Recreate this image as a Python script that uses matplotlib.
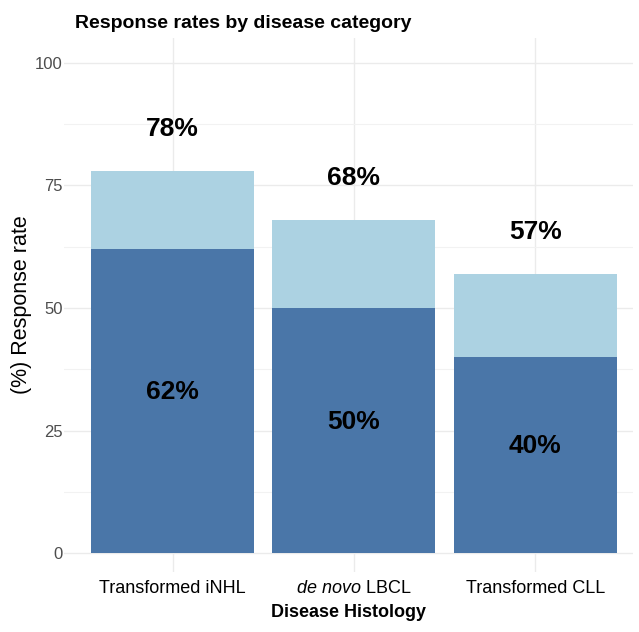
import matplotlib.pyplot as plt

categories = ['Transformed iNHL', 'de novo LBCL', 'Transformed CLL']
overall = [78, 68, 57]
complete = [62, 50, 40]

plt.rcParams['font.family'] = ['Liberation Sans', 'DejaVu Sans']
plt.rcParams['mathtext.fontset'] = 'custom'
plt.rcParams['mathtext.it'] = 'Liberation Sans:italic'
plt.rcParams['mathtext.rm'] = 'Liberation Sans'

fig = plt.figure(figsize=(6.39, 6.32), dpi=100)
ax = fig.add_axes([64 / 639, 60 / 632, (633 - 64) / 639, (594 - 60) / 632])

x = list(range(1, len(categories) + 1))
ax.bar(x, overall, width=0.9, color='#acd2e2', zorder=2)
ax.bar(x, complete, width=0.9, color='#4a76a8', zorder=3)

for xi, o, c in zip(x, overall, complete):
    ax.text(xi, o + 8.4, '%d%%' % o, ha='center', va='center',
            fontsize=19, fontweight='bold', zorder=4)
    ax.text(xi, c / 2 + 1.8, '%d%%' % c, ha='center', va='center',
            fontsize=19, fontweight='bold', zorder=4)

ax.set_xlim(0.4, 3.54)
ax.set_ylim(-3.8, 105)
ax.set_yticks([0, 25, 50, 75, 100])
ax.set_yticks([12.5, 37.5, 62.5, 87.5], minor=True)
ax.set_xticks(x)
ax.set_xticklabels(['Transformed iNHL', r'$\mathit{de\ novo}$ LBCL', 'Transformed CLL'])
ax.grid(True, which='both', color='#ebebeb', linewidth=1.0, zorder=0)
ax.grid(True, which='minor', axis='y', color='#f2f2f2', linewidth=0.8)
ax.set_axisbelow(True)
for s in ax.spines.values():
    s.set_visible(False)
ax.tick_params(axis='both', which='both', length=0)
ax.tick_params(axis='y', labelsize=12, labelcolor='#4d4d4d', pad=1)
ax.tick_params(axis='x', labelsize=13, labelcolor='black', pad=6)

ax.set_ylabel('(%) Response rate', fontsize=15.5, labelpad=2)
ax.set_xlabel('Disease Histology', fontsize=13, fontweight='bold', labelpad=5)
ax.set_title('Response rates by disease category', fontsize=14, fontweight='bold',
             loc='left', x=0.02, pad=7)

fig.savefig('out.png', dpi=100)
